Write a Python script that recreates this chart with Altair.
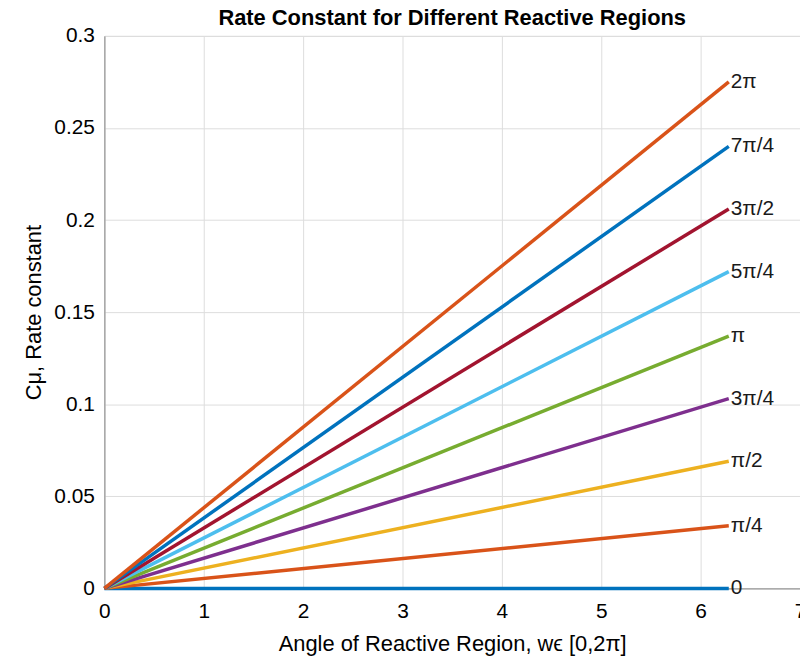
import altair as alt
import pandas as pd

labels = ["0", "π/4", "π/2", "3π/4", "π", "5π/4", "3π/2", "7π/4", "2π"]
end_vals = [0.0, 0.034, 0.069, 0.103, 0.137, 0.172, 0.206, 0.240, 0.275]
colors = ["#0072BD", "#D95319", "#EDB120", "#7E2F8E", "#77AC30",
          "#4DBEEE", "#A2142F", "#0072BD", "#D95319"]
x_start = 0.0
x_end = 6.2832
x_ticks = [0, 1, 2, 3, 4, 5, 6, 7]
y_ticks = [0, 0.05, 0.1, 0.15, 0.2, 0.25, 0.3]

rows = []
for i, (lab, v) in enumerate(zip(labels, end_vals)):
    rows.append({"series": lab, "order": i, "x": x_start, "y": 0.0})
    rows.append({"series": lab, "order": i, "x": x_end, "y": v})
df = pd.DataFrame(rows)
ends = pd.DataFrame({"series": labels, "x": [x_end] * len(labels), "y": end_vals})

font = "Liberation Sans"
xscale = alt.Scale(domain=[0, 7], nice=False, zero=False)
yscale = alt.Scale(domain=[0, 0.3], nice=False)
cscale = alt.Scale(domain=labels, range=colors)

lines = alt.Chart(df).mark_line(strokeWidth=3.5, clip=False).encode(
    x=alt.X("x:Q", scale=xscale,
            axis=alt.Axis(values=x_ticks, title="Angle of Reactive Region, wϵ [0,2π]",
                          format="d", labelFontSize=21, titleFontSize=22,
                          titleFontWeight="normal", labelFlush=False,
                          labelPadding=12, titlePadding=12, tickSize=0)),
    y=alt.Y("y:Q", scale=yscale,
            axis=alt.Axis(values=y_ticks, title="Cμ, Rate constant",
                          labelFontSize=21, titleFontSize=22, format="~g",
                          titleFontWeight="normal", labelFlush=False,
                          labelPadding=10, titlePadding=8, tickSize=0)),
    color=alt.Color("series:N", scale=cscale, legend=None),
    detail="series:N",
    order="order:Q",
)

texts = alt.Chart(ends).mark_text(align="left", baseline="middle", dx=2,
                                  fontSize=21, font=font, color="#1a1a1a").encode(
    x=alt.X("x:Q", scale=xscale),
    y=alt.Y("y:Q", scale=yscale),
    text="series:N",
)

chart = alt.layer(lines, texts).properties(
    width=700,
    height=556,
    title=alt.TitleParams("Rate Constant for Different Reactive Regions",
                          fontSize=22, fontWeight="bold", font=font,
                          color="#000000", offset=-5),
    autosize=alt.AutoSizeParams(type="none"),
    padding={"left": 97, "top": 26, "right": 0, "bottom": 70},
).configure_view(stroke="#262626", strokeWidth=1).configure_axis(
    labelFont=font, titleFont=font, labelColor="#262626", titleColor="#262626",
    domainColor="#262626", gridColor="#e3e3e3", grid=True,
).configure(background="white")

chart.save("out.html", embed_options={"renderer": "svg", "actions": False})
